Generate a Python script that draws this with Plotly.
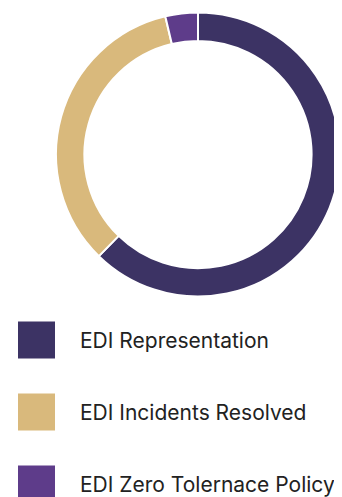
import plotly.graph_objects as go

labels = ["EDI Representation", "EDI Incidents Resolved", "EDI Zero Tolernace Policy"]
values = [62.3, 34.0, 3.7]
colors = ["#3C3364", "#D9B97C", "#5E3C8A"]

# page body has an 8px margin, so the figure is drawn from (8, 8)
OFF = 8
W, H = 342 - OFF, 497 - OFF

def px(x):
    return (x - OFF) / W

def py(y):
    return 1 - (y - OFF) / H

fig = go.Figure()
fig.add_trace(go.Pie(
    labels=labels, values=values, hole=0.8, sort=False, direction="clockwise",
    rotation=0, marker=dict(colors=colors, line=dict(color="white", width=2)),
    textinfo="none", hoverinfo="label+percent", showlegend=False,
    domain=dict(x=[px(56), px(340)], y=[py(296.5), py(12.5)]),
))

sq = 37
row_centers = [340, 412, 484]
for lab, col, cy in zip(labels, colors, row_centers):
    fig.add_shape(type="rect", xref="paper", yref="paper",
                  x0=px(18), x1=px(18 + sq),
                  y0=py(cy + sq / 2), y1=py(cy - sq / 2),
                  fillcolor=col, line=dict(width=0))
    fig.add_annotation(xref="paper", yref="paper", x=px(78), y=py(cy),
                       xanchor="left", yanchor="middle", text=lab, showarrow=False,
                       font=dict(family="Inter", size=21, color="#222222"))

fig.update_layout(width=W, height=H, margin=dict(l=0, r=0, t=0, b=0),
                  paper_bgcolor="white", plot_bgcolor="white")
fig.write_html("out.html")
